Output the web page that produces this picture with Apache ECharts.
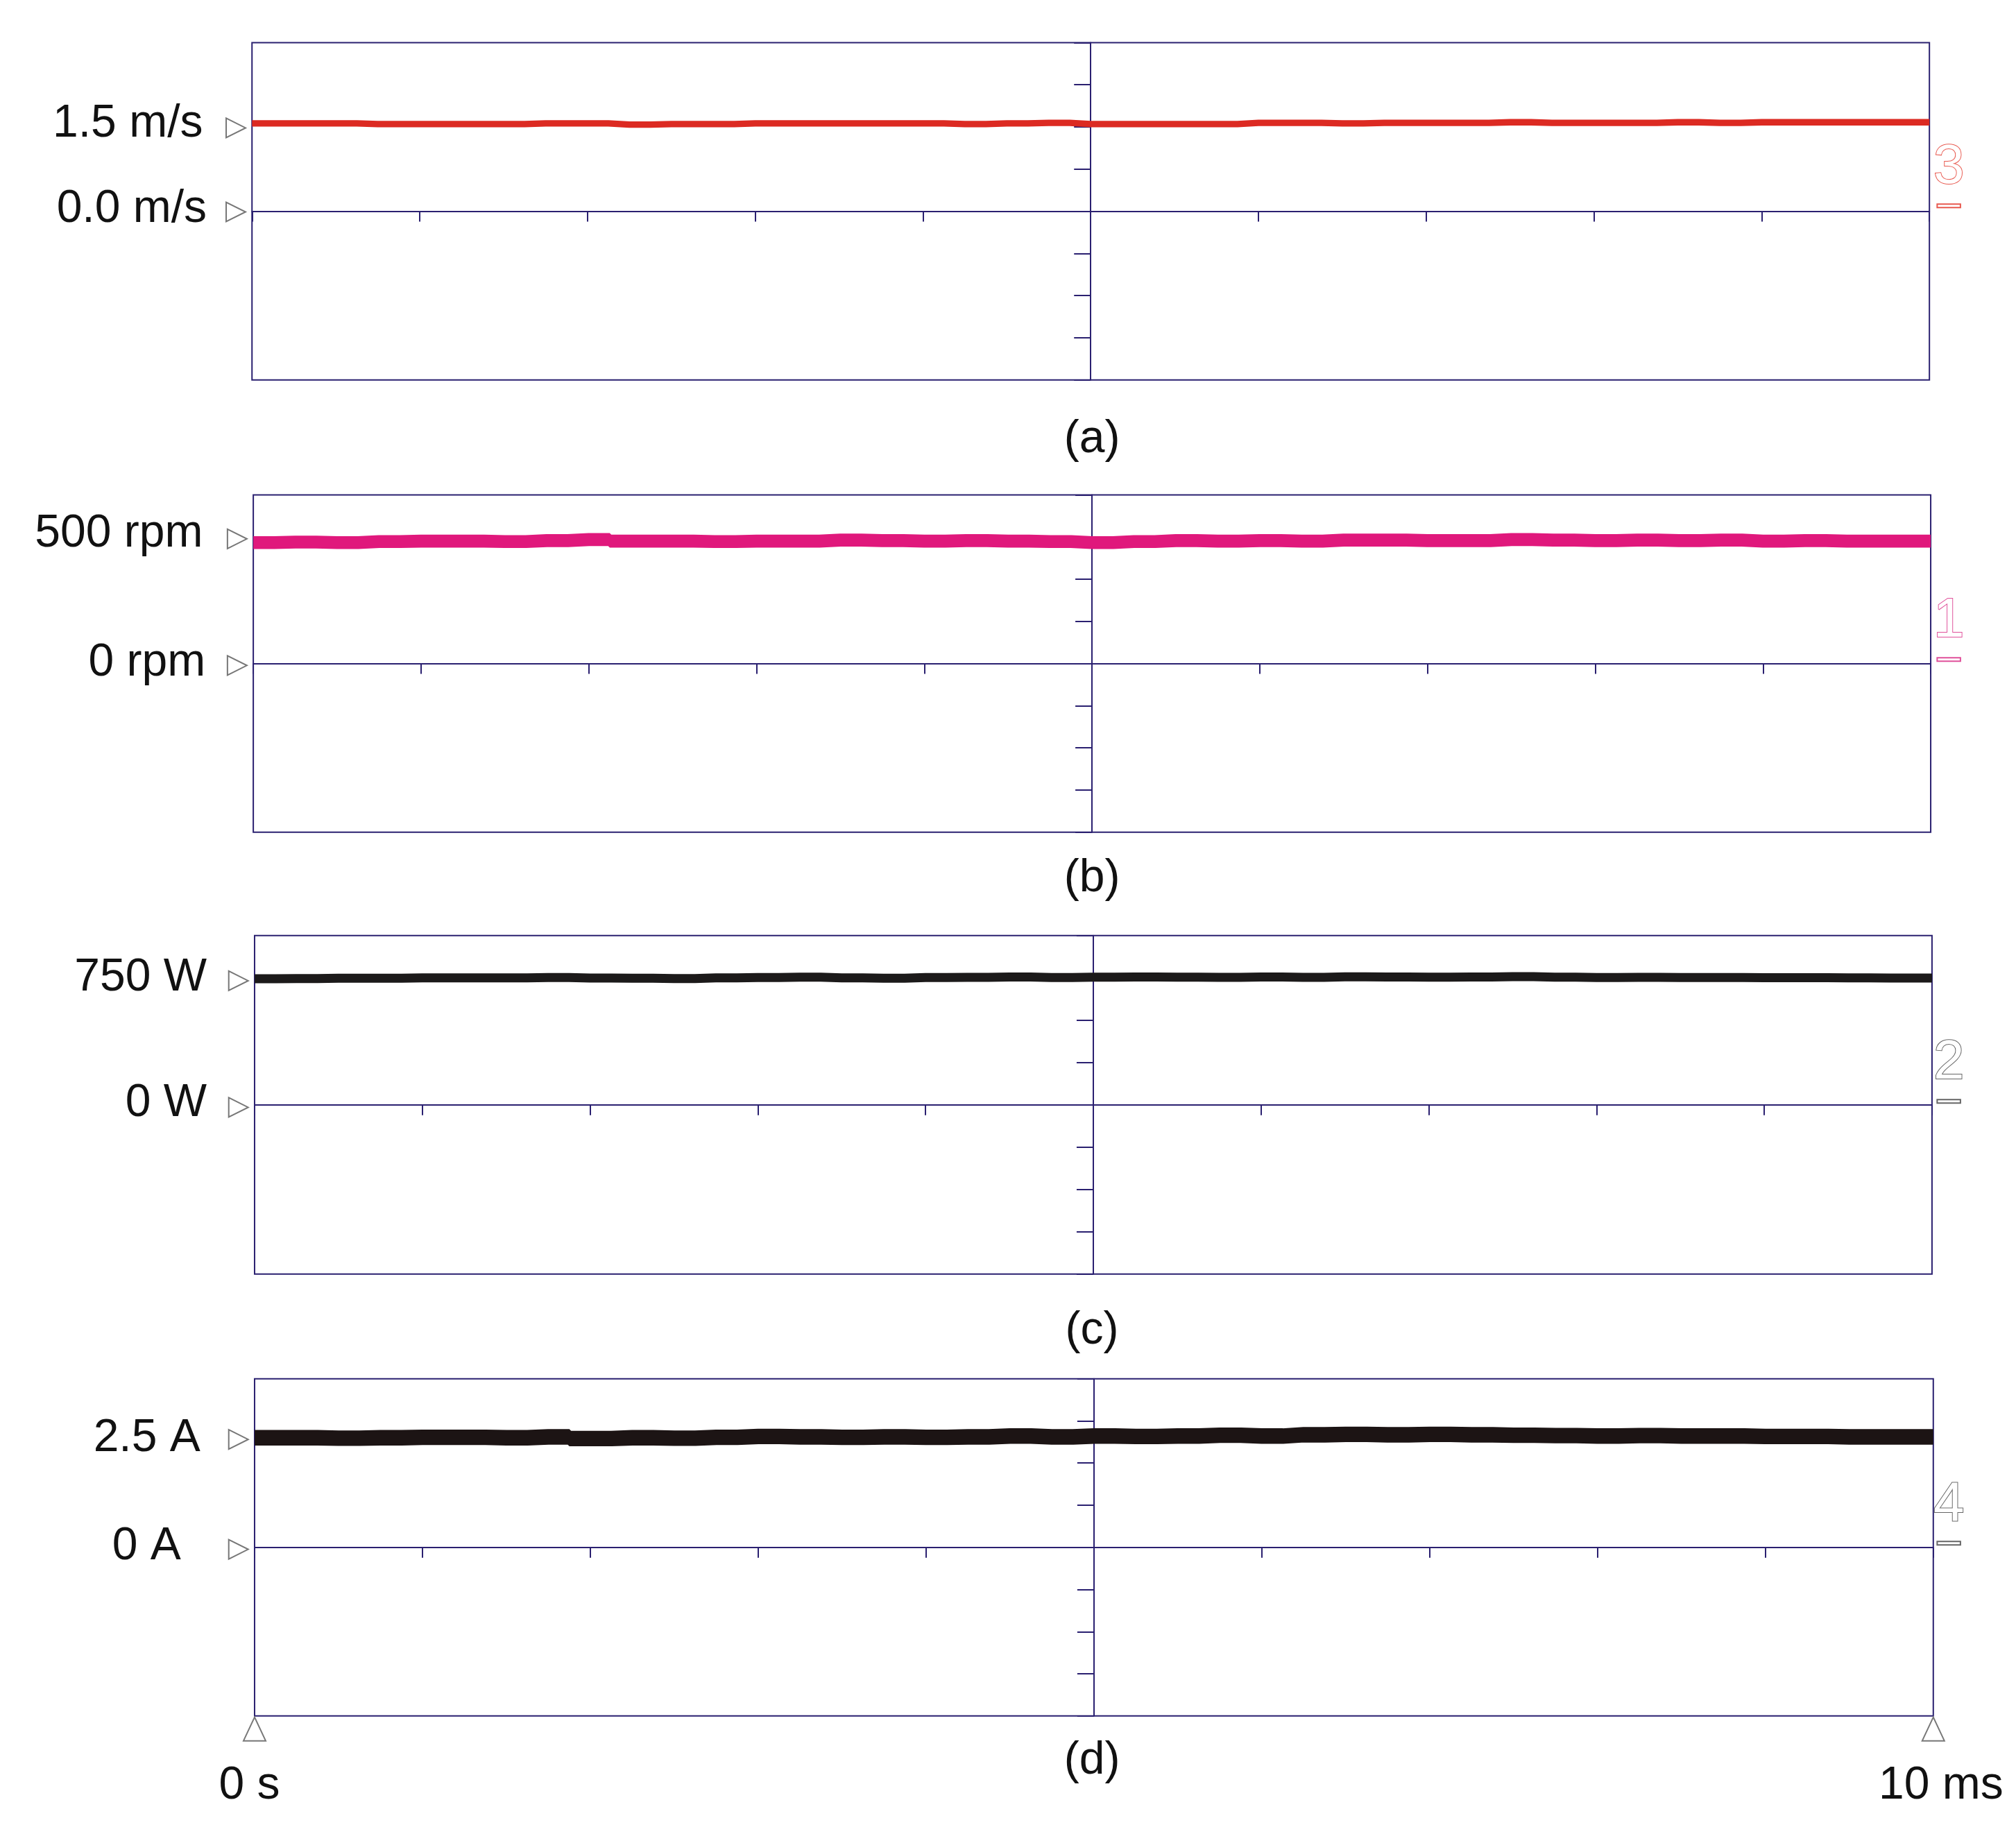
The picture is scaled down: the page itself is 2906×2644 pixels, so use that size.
<!DOCTYPE html>
<html>
<head>
<meta charset="utf-8">
<title>scope</title>
<script src="https://cdn.jsdelivr.net/npm/echarts@6/dist/echarts.min.js"></script>
<style>html,body{margin:0;background:#fff}</style>
</head>
<body>
<div id="main" style="width:2906px;height:2644px;"></div>
<script>
// time axis in ms, centred (-5..5 → 0 s .. 10 ms)
var times = [-5,-4.75,-4.5,-4.25,-4,-3.75,-3.5,-3.25,-3,-2.75,-2.5,-2.25,-2,-1.75,-1.5,-1.25,-1,-0.75,-0.5,-0.25,0,0.25,0.5,0.75,1,1.25,1.5,1.75,2,2.25,2.5,2.75,3,3.25,3.5,3.75,4,4.25,4.5,4.75,5];
var speed = [1.50,1.50,1.50,1.49,1.49,1.49,1.49,1.50,1.50,1.48,1.49,1.49,1.50,1.50,1.50,1.50,1.50,1.49,1.50,1.51,1.49,1.49,1.49,1.49,1.51,1.51,1.50,1.51,1.51,1.51,1.52,1.51,1.51,1.51,1.52,1.51,1.52,1.52,1.52,1.52,1.52];
var rpm = [478,480,478,482,484,484,482,486,490,484,484,482,484,484,488,486,484,486,484,482,478,482,486,484,486,484,488,488,486,486,490,488,486,488,486,488,484,486,484,484,484];
var power = [745,746,748,748,750,750,750,752,749,748,746,750,752,754,750,748,752,753,755,752,754,755,754,753,755,753,756,755,754,755,757,754,752,753,752,752,751,751,750,749,749];
var current = [2.60,2.60,2.59,2.60,2.61,2.61,2.60,2.62,2.58,2.60,2.59,2.61,2.63,2.62,2.61,2.62,2.61,2.62,2.64,2.62,2.64,2.63,2.64,2.66,2.64,2.67,2.68,2.67,2.68,2.67,2.66,2.65,2.64,2.65,2.64,2.64,2.63,2.63,2.62,2.62,2.62];
var chanLabels = ['1.5 m/s','0.0 m/s','500 rpm','0 rpm','750 W','0 W','2.5 A','0 A'];
var panelNames = ['(a)','(b)','(c)','(d)'];

var S = 2906 / 1560;
var AX = '#2a2070';
var FONT = '66px "Liberation Sans", Arial';
var panels = [
  {l:195,r:1493,t:33,b:294,div:0.72,data:speed,color:'#dc2a22',mark:'#e85a50',w:5,num:'3',lab:[chanLabels[0],chanLabels[1]],labx:[157,160],laby:[96,162],mk:[99,164]},
  {l:196,r:1494,t:383,b:644,div:166.67,data:rpm,color:'#e0187c',mark:'#e0509a',w:10,num:'1',lab:[chanLabels[2],chanLabels[3]],labx:[157,159],laby:[413,513],mk:[417,515]},
  {l:197,r:1495,t:724,b:986,div:250,data:power,color:'#1c1a1a',mark:'#666',w:7,num:'2',lab:[chanLabels[4],chanLabels[5]],labx:[160,160],laby:[757,854],mk:[759,857]},
  {l:197,r:1496,t:1067,b:1328,div:1,data:current,color:'#1c1414',mark:'#666',w:12,num:'4',lab:[chanLabels[6],chanLabels[7]],labx:[155,140],laby:[1113,1197],mk:[1114,1199]}
];
var captionY = [340,680,1030,1363];

var grid=[],xAxis=[],yAxis=[],series=[],graphic=[];
panels.forEach(function(p,i){
  grid.push({left:p.l*S,top:p.t*S,width:(p.r-p.l)*S,height:(p.b-p.t)*S,show:true,borderColor:AX,borderWidth:2,backgroundColor:'#fff'});
  xAxis.push({gridIndex:i,type:'value',min:-5,max:5,interval:1,
    axisLine:{show:true,onZero:true,lineStyle:{color:AX,width:2}},
    axisTick:{show:true,inside:false,length:15,lineStyle:{color:AX,width:2}},
    axisLabel:{show:false},splitLine:{show:false}});
  yAxis.push({gridIndex:i,type:'value',min:-4*p.div,max:4*p.div,interval:p.div,
    axisLine:{show:true,onZero:true,lineStyle:{color:AX,width:2}},
    axisTick:{show:true,inside:false,length:24,lineStyle:{color:AX,width:2}},
    axisLabel:{show:false},splitLine:{show:false}});
  series.push({type:'line',xAxisIndex:i,yAxisIndex:i,step:'middle',symbol:'none',
    data:times.map(function(t,j){return [t,p.data[j]];}),
    lineStyle:{color:p.color,width:p.w*S}});
  // left labels and marker triangles
  for(var k=0;k<2;k++){
    graphic.push({type:'text',style:{x:p.labx[k]*S,y:p.laby[k]*S,text:p.lab[k],font:FONT,fill:'#111',textAlign:'right',textVerticalAlign:'middle'}});
    var mx=(p.l-20)*S,my=p.mk[k]*S;
    graphic.push({type:'polygon',shape:{points:[[mx,my-14],[mx,my+14],[mx+28,my]]},style:{fill:'none',stroke:'#777',lineWidth:2}});
  }
  graphic.push({type:'text',style:{x:1508*S,y:(p.mk[1]-34)*S,text:p.num,font:'80px "Liberation Sans", Arial',fill:'#fff',stroke:p.mark,lineWidth:2,textAlign:'center',textVerticalAlign:'middle'}});
  graphic.push({type:'rect',shape:{x:1499*S,y:(p.mk[1]-6)*S,width:18*S,height:5},style:{fill:'none',stroke:p.mark,lineWidth:2}});
  graphic.push({type:'text',style:{x:845*S,y:captionY[i]*S,text:panelNames[i],font:FONT,fill:'#111',textAlign:'center',textVerticalAlign:'middle'}});
});
// bottom time markers
[[197,'0 s',193],[1496,'10 ms',1502]].forEach(function(m){
  var x=m[0]*S,y=1329*S;
  graphic.push({type:'polygon',shape:{points:[[x,y],[x-16,y+34],[x+16,y+34]]},style:{fill:'none',stroke:'#777',lineWidth:2}});
  graphic.push({type:'text',style:{x:m[2]*S,y:1382*S,text:m[1],font:FONT,fill:'#111',textAlign:'center',textVerticalAlign:'middle'}});
});

var chart = echarts.init(document.getElementById('main'));
chart.setOption({animation:false,backgroundColor:'#fff',grid:grid,xAxis:xAxis,yAxis:yAxis,series:series,graphic:graphic});
</script>
</body>
</html>
